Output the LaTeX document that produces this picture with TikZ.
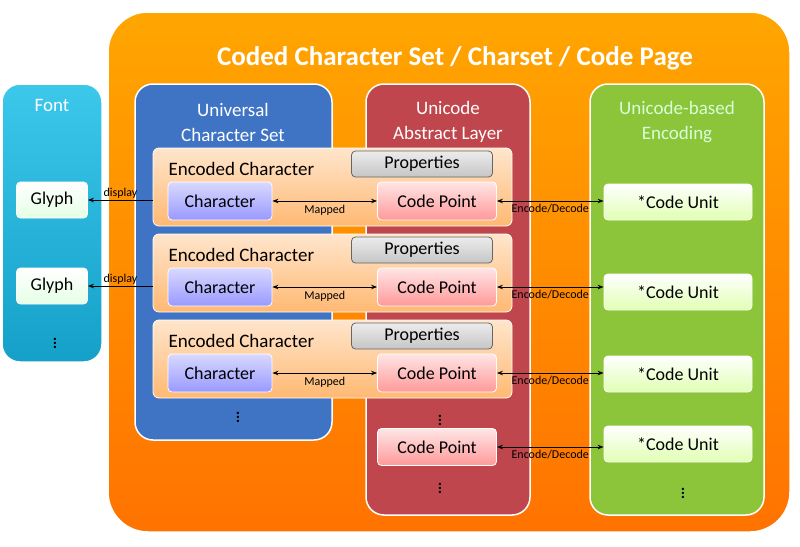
\documentclass[tikz,border=0pt]{standalone}
\usepackage{fontspec}
\setmainfont{Carlito}
\usetikzlibrary{arrows.meta}
\begin{document}
\begin{tikzpicture}[x=1pt,y=-1pt,
 panel/.style={draw=white,line width=1.5pt,rounded corners=18pt},
 tbox/.style={rounded corners=4pt,draw=white,line width=0.8pt,font=\fontsize{18}{18}\selectfont,inner sep=0pt},
 lbl/.style={font=\fontsize{12}{12}\selectfont,inner sep=1pt},
 dots/.style={font=\fontsize{16}{16}\selectfont\bfseries,inner sep=0pt},
 arr/.style={{Stealth[length=6pt]}-{Stealth[length=6pt]},line width=1pt},
 sarr/.style={-{Stealth[length=6pt]},line width=1pt}]
\useasboundingbox (0,0) rectangle (800,546);
% big orange
\shade[draw=white,line width=1.5pt,rounded corners=40pt,top color=orange!70!yellow,bottom color=orange!90!red] (108,12) rectangle (790,532);
\node[white,font=\fontsize{27}{27}\selectfont\bfseries] (title) at (455,58) {Coded Character Set / Charset / Code Page};
% font
\shade[panel,top color={rgb,255:red,60;green,200;blue,235},bottom color={rgb,255:red,20;green,160;blue,200}] (2,84) rectangle (102,362);
\node[white,font=\fontsize{19}{19}\selectfont] (fontt) at (52,105) {Font};
\node[tbox,top color=white,bottom color=green!10,minimum width=71pt,minimum height=36pt] (g1) at (52,200) {Glyph};
\node[tbox,top color=white,bottom color=green!10,minimum width=71pt,minimum height=36pt] (g2) at (52,286) {Glyph};
\node[dots] (fd) at (55,340) {$\vdots$};
% columns
\fill[panel,fill={rgb,255:red,63;green,116;blue,196}] (135,84) rectangle (332,440);
\fill[panel,fill={rgb,255:red,190;green,70;blue,76}] (366,84) rectangle (530,515);
\fill[panel,fill={rgb,255:red,140;green,196;blue,58}] (590,84) rectangle (764,515);
\node[white,align=center,font=\fontsize{19}{25}\selectfont] (ucs) at (233,122) {Universal\\Character Set};
\node[white,align=center,font=\fontsize{19}{25}\selectfont] (ual) at (448,122) {Unicode\\Abstract Layer};
\node[green!15,align=center,font=\fontsize{19}{25}\selectfont] (ube) at (677,122) {Unicode-based\\Encoding};
% encoded characters
\foreach \i/\y/\cu in {1/148/184,2/234/274,3/320/356}{
 \shade[draw=white,line width=0.8pt,rounded corners=6pt,top color=orange!20,bottom color=orange!55] (153,\y) rectangle (512,\y+78);
 \node[anchor=west,font=\fontsize{19}{19}\selectfont] (ec\i) at (165,\y+21) {Encoded Character};
 \node[tbox,draw=black!60,top color=gray!15,bottom color=gray!45,minimum width=141pt,minimum height=26pt] (pr\i) at (422,\y+16) {Properties};
 \node[tbox,top color=blue!15,bottom color=blue!40,minimum width=104pt,minimum height=38pt] (ch\i) at (220,\y+53) {Character};
 \node[tbox,top color=red!10,bottom color=red!40,minimum width=119pt,minimum height=38pt] (cp\i) at (437,\y+53) {Code Point};
 \draw[arr] (ch\i) -- node[lbl,below=3pt] {Mapped} (cp\i);
 \node[tbox,top color=white,bottom color=green!40!yellow!30,minimum width=148pt,minimum height=36pt] (cu\i) at (678,\cu+18) {*Code Unit};
 \draw[arr] (cp\i.east) -- node[lbl,below=2pt] {Encode/Decode} (cp\i.east -| cu\i.west);
}
\node[tbox,top color=red!10,bottom color=red!40,minimum width=119pt,minimum height=37pt] (cp4) at (437,447) {Code Point};
\node[tbox,top color=white,bottom color=green!40!yellow!30,minimum width=148pt,minimum height=36pt] (cu4) at (678,444) {*Code Unit};
\draw[arr] (cp4.east) -- node[lbl,below=2pt] {Encode/Decode} (cp4.east -| cu4.west);
\coordinate (e1) at (153,200); \coordinate (e2) at (153,286);
\draw[sarr] (e1) -- node[lbl,above] {display} (g1);
\draw[sarr] (e2) -- node[lbl,above] {display} (g2);
\node[dots] (d1) at (238,414) {$\vdots$};
\node[dots] (d2) at (440,417) {$\vdots$};
\node[dots] (d3) at (440,485) {$\vdots$};
\node[dots] (d4) at (683,490) {$\vdots$};
\end{tikzpicture}
\end{document}
